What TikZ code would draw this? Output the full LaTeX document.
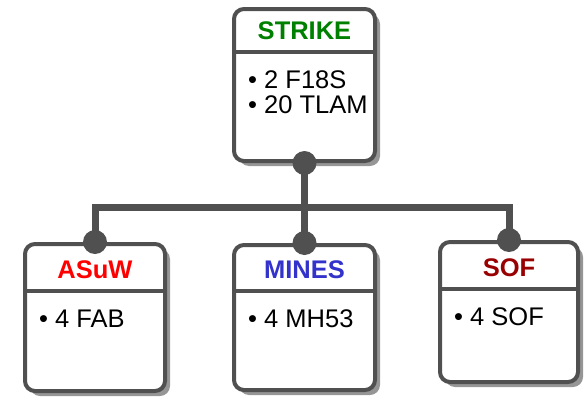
\documentclass[tikz,border=0pt]{standalone}
\usepackage{fontspec}
\setmainfont{Liberation Sans}
\usetikzlibrary{shadows}

\definecolor{org@line}{RGB}{80,80,80}
\definecolor{org@shadow}{RGB}{150,150,150}
\definecolor{org@strike}{RGB}{0,128,0}
\definecolor{org@asuw}{RGB}{255,0,0}
\definecolor{org@mines}{RGB}{51,51,204}
\definecolor{org@sof}{RGB}{153,0,0}

\tikzset{
  unitbox/.style={draw=org@line, line width=4pt, rounded corners=10pt, fill=white,
    inner sep=0pt, drop shadow={shadow xshift=5pt, shadow yshift=-5pt,
    fill=org@shadow, opacity=1}},
  unitsep/.style={draw=org@line, line width=4pt},
  unittitle/.style={anchor=base, inner sep=0pt, font=\fontsize{25.5}{25.5}\selectfont\bfseries},
  unititem/.style={anchor=base west, inner sep=0pt, font=\fontsize{25.5}{25.5}\selectfont},
  link/.style={draw=org@line, line width=7pt, line join=miter},
  joint/.style={circle, fill=org@line, minimum size=24pt, inner sep=0pt},
}

\begin{document}
\begin{tikzpicture}[x=1pt, y=-1pt]
  \path[use as bounding box] (0,0) rectangle (584,399);

  % ---- UNIT BOXES (outer edges, header line, title colour, items) ----
  \foreach \name/\xl/\yt/\xr/\yb/\hy/\col/\ttl/\items in {
      strike/232/7/377/163/52/org@strike/STRIKE/{2 F18S, 20 TLAM},
      asuw/23/242/167/393/291/org@asuw/ASuW/{4 FAB},
      mines/232/243/377/392/291/org@mines/MINES/{4 MH53},
      sof/438/240/580/384/289/org@sof/SOF/{4 SOF}%
    } {
    \pgfmathsetmacro{\cx}{(\xl+\xr)/2}
    \pgfmathsetmacro{\cy}{(\yt+\yb)/2}
    \pgfmathsetmacro{\bw}{\xr-\xl-4}
    \pgfmathsetmacro{\bh}{\yb-\yt-4}
    \node[unitbox, minimum width=\bw pt, minimum height=\bh pt] (\name) at (\cx,\cy) {};
    \path (0,\hy) coordinate (\name-hd);
    \draw[unitsep] (\name.west |- \name-hd) -- (\name.east |- \name-hd);
    \node[unittitle, text=\col] (\name-ttl) at (\cx,\hy-12.5) {\ttl};
    \foreach \it [count=\k] in \items {
      \node[unititem] (\name-it\k) at (\xl+16,\hy+36+25*\k-25) {• \it};
    }
  }

  % ---- CONNECTORS ----
  \path (strike.south) ++(0,44) coordinate (bus);
  \draw[link] (strike.south) -- (bus);
  \draw[link] (asuw.north) |- (bus) -| (sof.north);
  \draw[link] (mines.north) -- (mines.north |- bus);

  % Joints sit on the box edges, over the line ends
  \foreach \name/\at in {strike/south, asuw/north, mines/north, sof/north} {
    \node[joint] (\name-j) at (\name.\at) {};
  }
\end{tikzpicture}
\end{document}
